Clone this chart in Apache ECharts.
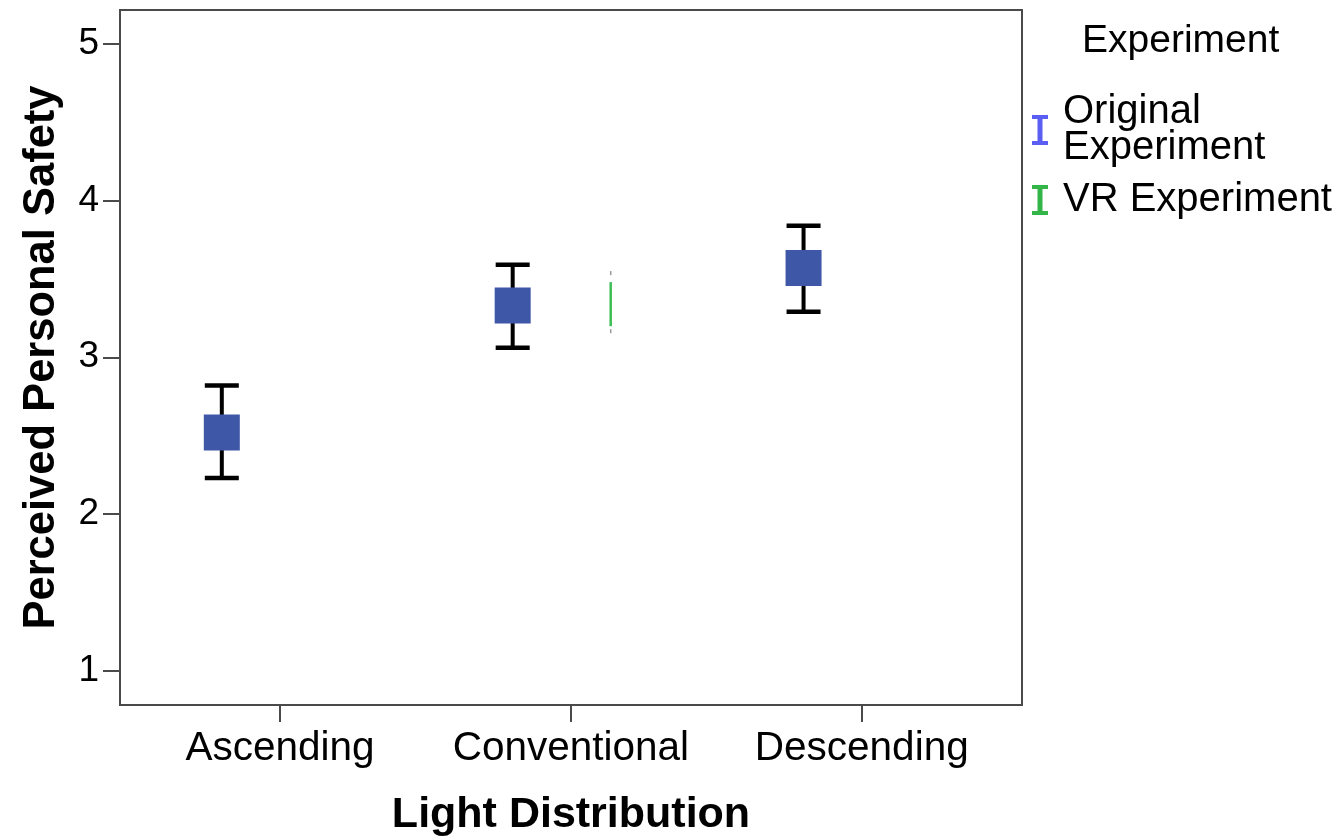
<!DOCTYPE html>
<html>
<head>
<meta charset="utf-8">
<script src="https://cdn.jsdelivr.net/npm/echarts@6/dist/echarts.min.js"></script>
<style>
  html, body { margin: 0; padding: 0; background: #fff; }
  #chart { width: 1341px; height: 839px; }
</style>
</head>
<body>
<div id="chart"></div>
<script>
// ---- data ----
const categories = ['Ascending', 'Conventional', 'Descending'];
const yTicks = [1, 2, 3, 4, 5];
const originalMean = [2.52, 3.33, 3.57];
const originalLow = [2.23, 3.06, 3.29];
const originalHigh = [2.82, 3.59, 3.84];
const vrCategories = ['Conventional'];
const vrLow = [3.16];
const vrHigh = [3.55];

// ---- layout constants ----
const originalOffset = -0.2;
const vrOffset = 0.137;
const FONT = '"Liberation Sans", Arial, sans-serif';
const AXIS_COLOR = '#4a4a4a';
const IBEAM = 'path://M0,0H16V4H10.5V26H16V30H0V26H5.5V4H0Z';

const xTicks = categories.map((c, i) => i + 1);
const origBars = categories.map((c, i) => [i + 1 + originalOffset, originalLow[i], originalHigh[i]]);
const origPts = categories.map((c, i) => [i + 1 + originalOffset, originalMean[i]]);
const vrBars = vrCategories.map((c, i) => [categories.indexOf(c) + 1 + vrOffset, vrLow[i], vrHigh[i]]);

const chart = echarts.init(document.getElementById('chart'), null, { renderer: 'canvas' });

const option = {
  backgroundColor: '#fff',
  animation: false,
  textStyle: { fontFamily: FONT },
  title: {
    text: 'Experiment',
    left: 1082, top: 22, padding: 0,
    textStyle: { fontFamily: FONT, fontSize: 39, fontWeight: 'normal', color: '#000' }
  },
  legend: {
    orient: 'vertical',
    left: 1032, top: 92,
    padding: 0,
    itemGap: 12,
    itemWidth: 16, itemHeight: 30,
    selectedMode: false,
    formatter: n => n === 'Original Experiment' ? 'Original\nExperiment' : n,
    textStyle: { fontFamily: FONT, fontSize: 40, color: '#000', lineHeight: 36, padding: [0, 0, 0, 10] },
    data: [
      { name: 'Original Experiment', icon: IBEAM, itemStyle: { color: '#5A5EF2' } },
      { name: 'VR Experiment', icon: IBEAM, itemStyle: { color: '#33B548' } }
    ]
  },
  grid: {
    left: 120, right: 319, top: 10, bottom: 134,
    outerBoundsMode: 'none',
    show: true, borderColor: AXIS_COLOR, borderWidth: 2, containLabel: false
  },
  xAxis: {
    type: 'value',
    min: 0.45, max: 3.551,
    name: 'Light Distribution',
    nameLocation: 'middle',
    nameGap: 89,
    nameTextStyle: { fontFamily: FONT, fontSize: 43, fontWeight: 'bold', color: '#000' },
    axisLine: { show: true, onZero: false, lineStyle: { color: AXIS_COLOR, width: 2 } },
    axisTick: { show: true, inside: false, length: 17, customValues: xTicks, lineStyle: { color: AXIS_COLOR, width: 2 } },
    axisLabel: {
      customValues: xTicks,
      formatter: v => categories[Math.round(v) - 1] || '',
      margin: 23, fontFamily: FONT, fontSize: 40.5, color: '#000'
    },
    splitLine: { show: false }
  },
  yAxis: {
    type: 'value',
    min: 0.78, max: 5.217,
    name: 'Perceived Personal Safety',
    nameLocation: 'middle',
    nameGap: 56,
    nameRotate: 90,
    nameTextStyle: { fontFamily: FONT, fontSize: 43.5, fontWeight: 'bold', color: '#000' },
    axisLine: { show: true, onZero: false, lineStyle: { color: AXIS_COLOR, width: 2 } },
    axisTick: { show: true, length: 17, customValues: yTicks, lineStyle: { color: AXIS_COLOR, width: 2 } },
    axisLabel: {
      customValues: yTicks,
      margin: 21, fontFamily: FONT, fontSize: 37, color: '#000'
    },
    splitLine: { show: false }
  },
  series: [
    {
      name: 'Original Experiment',
      type: 'custom',
      z: 2,
      data: origBars,
      renderItem: function (params, api) {
        const x = api.value(0);
        const lo = api.coord([x, api.value(1)]);
        const hi = api.coord([x, api.value(2)]);
        const half = 17;
        const st = { stroke: '#000', lineWidth: 4.5, fill: null };
        return {
          type: 'group',
          children: [
            { type: 'line', shape: { x1: lo[0], y1: lo[1], x2: hi[0], y2: hi[1] }, style: { stroke: '#000', lineWidth: 4 } },
            { type: 'line', shape: { x1: hi[0] - half, y1: hi[1], x2: hi[0] + half, y2: hi[1] }, style: st },
            { type: 'line', shape: { x1: lo[0] - half, y1: lo[1], x2: lo[0] + half, y2: lo[1] }, style: st }
          ]
        };
      }
    },
    {
      name: 'Original Experiment',
      type: 'scatter',
      z: 3,
      symbol: 'rect',
      symbolSize: 36,
      itemStyle: { color: '#3E57A7', opacity: 1 },
      data: origPts
    },
    {
      name: 'VR Experiment',
      type: 'custom',
      z: 2,
      data: vrBars,
      renderItem: function (params, api) {
        const x = api.value(0);
        const lo = api.coord([x, api.value(1)]);
        const hi = api.coord([x, api.value(2)]);
        return {
          type: 'group',
          children: [
            { type: 'line', shape: { x1: lo[0], y1: lo[1] - 6, x2: hi[0], y2: hi[1] + 11 }, style: { stroke: '#3DBE55', lineWidth: 2.5 } },
            { type: 'line', shape: { x1: hi[0], y1: hi[1], x2: hi[0], y2: hi[1] + 4 }, style: { stroke: '#999', lineWidth: 1.5 } },
            { type: 'line', shape: { x1: lo[0], y1: lo[1] - 3, x2: lo[0], y2: lo[1] + 1 }, style: { stroke: '#999', lineWidth: 1.5 } }
          ]
        };
      }
    }
  ]
};

chart.setOption(option);
</script>
</body>
</html>
